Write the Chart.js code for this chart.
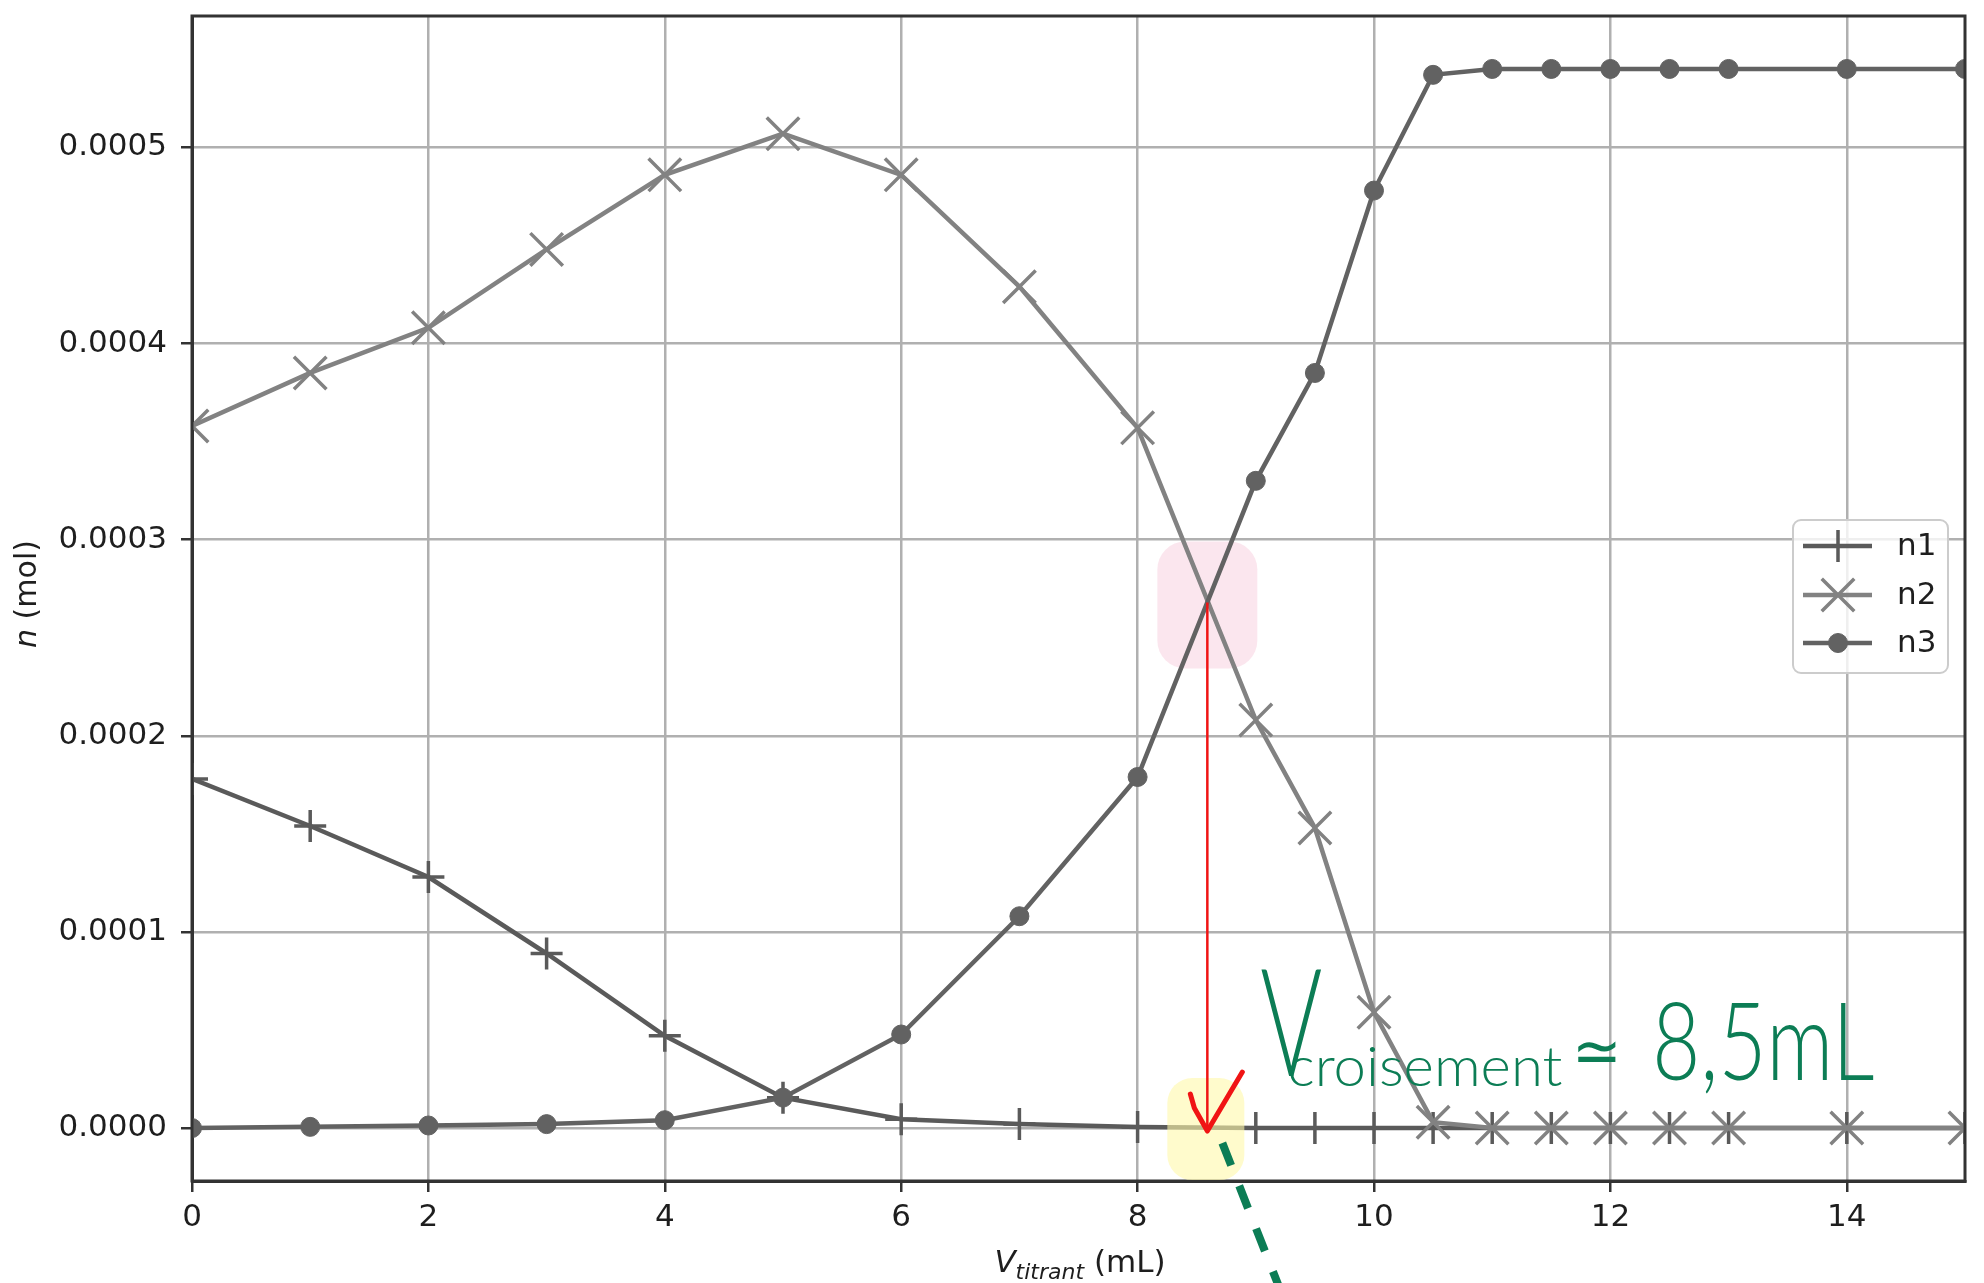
<!DOCTYPE html>
<html>
<head>
<meta charset="utf-8">
<script src="https://cdn.jsdelivr.net/npm/chart.js@4"></script>
<style>
  html, body { margin: 0; padding: 0; background: #fff; }
</style>
</head>
<body>
<canvas id="titrationChart" width="1984" height="1283"></canvas>
<script>
// data
const volumes = [0, 1, 2, 3, 4, 5, 6, 7, 8, 9, 9.5, 10, 10.5, 11, 11.5, 12, 12.5, 13, 14, 15];
const n1Values = [0.000178, 0.000154, 0.000128, 0.000089, 0.000047, 0.0000155, 0.0000045, 0.000002, 0.0000005, 0, 0, 0, 0, 0, 0, 0, 0, 0, 0, 0];
const n2Values = [0.000358, 0.000385, 0.000408, 0.000448, 0.000486, 0.000507, 0.000486, 0.000429, 0.000357, 0.000208, 0.000153, 0.000059, 0.000003, 0, 0, 0, 0, 0, 0, 0];
const n3Values = [0, 0.0000006, 0.0000013, 0.000002, 0.000004, 0.0000155, 0.0000477, 0.000108, 0.000179, 0.00033, 0.000385, 0.000478, 0.000537, 0.00054, 0.00054, 0.00054, 0.00054, 0.00054, 0.00054, 0.00054];
const seriesNames = ['n1', 'n2', 'n3'];
const xTicks = [0, 2, 4, 6, 8, 10, 12, 14];
const yTicks = [0, 0.0001, 0.0002, 0.0003, 0.0004, 0.0005];

// handwritten note on the picture
const crossingVolume = 8.59;
const crossingAmount = 0.000269;
const noteParts = ['V', 'croisement', '≃', '8,5mL'];

const green = 'rgb(12,125,85)';

function toPoints(values) {
    return volumes.map((v, i) => ({ x: v, y: values[i] }));
}

function fitText(ctx, text, x, baseline, width, font) {
    ctx.font = font;
    const w = ctx.measureText(text).width;
    ctx.save();
    ctx.translate(x, baseline);
    ctx.scale(width / w, 1);
    ctx.fillText(text, 0, 0);
    ctx.restore();
}

function noPadding(scale) {
    scale.paddingTop = 0;
    scale.paddingBottom = 0;
    scale.paddingLeft = 0;
    scale.paddingRight = 0;
}

const decorPlugin = {
    id: 'decor',
    beforeDatasetsDraw(chart) {
        const ctx = chart.ctx;
        const x = chart.scales.x, y = chart.scales.y;
        const cx = x.getPixelForValue(crossingVolume);
        const cy = y.getPixelForValue(crossingAmount);
        ctx.save();
        ctx.fillStyle = 'rgba(248,214,226,0.6)';
        ctx.beginPath();
        ctx.roundRect(cx - 50, cy - 59, 100, 127, 28);
        ctx.fill();
        ctx.restore();
    },
    afterDatasetsDraw(chart) {
        const ctx = chart.ctx;
        const area = chart.chartArea;
        const x = chart.scales.x, y = chart.scales.y;
        const cx = x.getPixelForValue(crossingVolume);
        const cy = y.getPixelForValue(crossingAmount);
        const y0 = y.getPixelForValue(0);

        // top and right spines
        ctx.save();
        ctx.strokeStyle = '#333';
        ctx.lineWidth = 3;
        ctx.strokeRect(area.left, area.top, area.right - area.left, area.bottom - area.top);

        // yellow highlight
        ctx.fillStyle = 'rgba(255,248,170,0.6)';
        ctx.beginPath();
        ctx.roundRect(cx - 40, y0 - 50, 77, 102, 25);
        ctx.fill();

        // red arrow + check
        ctx.strokeStyle = 'rgb(240,20,20)';
        ctx.lineWidth = 2.5;
        ctx.beginPath();
        ctx.moveTo(cx, cy + 2);
        ctx.lineTo(cx, y0 + 3);
        ctx.stroke();
        ctx.lineWidth = 5;
        ctx.lineJoin = 'round';
        ctx.lineCap = 'round';
        ctx.beginPath();
        ctx.moveTo(cx - 17, y0 - 34);
        ctx.lineTo(cx - 13, y0 - 20);
        ctx.lineTo(cx, y0 + 3);
        ctx.lineTo(cx + 35, y0 - 56);
        ctx.stroke();

        // green dashed pointer
        ctx.strokeStyle = green;
        ctx.lineWidth = 8;
        ctx.lineCap = 'butt';
        ctx.setLineDash([24, 22]);
        ctx.beginPath();
        ctx.moveTo(cx + 15, y0 + 15);
        ctx.lineTo(cx + 82, y0 + 185);
        ctx.stroke();
        ctx.setLineDash([]);

        // green note
        ctx.fillStyle = green;
        fitText(ctx, noteParts[0], cx + 53, y0 - 52, 62, '300 150px Lato, "DejaVu Sans"');
        fitText(ctx, noteParts[1], cx + 80, y0 - 42, 275, '300 56px Lato, "DejaVu Sans"');
        fitText(ctx, noteParts[2], cx + 365, y0 - 55, 50, '200 64px "DejaVu Sans"');
        fitText(ctx, noteParts[3], cx + 445, y0 - 48, 222, '300 108px Lato, "DejaVu Sans"');
        ctx.restore();

        // legend
        const box = { left: 1793, top: 520, width: 155, height: 153 };
        ctx.save();
        ctx.fillStyle = 'rgba(255,255,255,0.8)';
        ctx.strokeStyle = '#cccccc';
        ctx.lineWidth = 2;
        ctx.beginPath();
        ctx.roundRect(box.left, box.top, box.width, box.height, 8);
        ctx.fill();
        ctx.stroke();
        const rows = [546, 595, 643];
        chart.data.datasets.forEach((ds, i) => {
            const ry = rows[i];
            ctx.strokeStyle = ds.borderColor;
            ctx.lineWidth = ds.borderWidth;
            ctx.beginPath();
            ctx.moveTo(1803, ry);
            ctx.lineTo(1872, ry);
            ctx.stroke();
            ctx.fillStyle = ds.pointBackgroundColor;
            ctx.strokeStyle = ds.borderColor;
            ctx.lineWidth = ds.pointBorderWidth;
            Chart.helpers.drawPoint(ctx, {
                pointStyle: ds.pointStyle,
                radius: ds.pointRadius,
                rotation: 0,
                borderWidth: ds.pointBorderWidth
            }, 1838, ry);
            ctx.fillStyle = '#1e1e1e';
            ctx.font = '31px "DejaVu Sans"';
            ctx.textBaseline = 'middle';
            ctx.fillText(ds.label, 1897, ry + 1);
        });
        ctx.restore();
    },
    afterDraw(chart) {
        const ctx = chart.ctx;
        ctx.save();
        ctx.fillStyle = '#1e1e1e';
        ctx.textBaseline = 'alphabetic';

        // x title: V_titrant (mL)
        const partsX = [
            { t: 'V', f: 'italic 31px "DejaVu Sans"', dy: 0 },
            { t: 'titrant', f: 'italic 22px "DejaVu Sans"', dy: 7 },
            { t: ' (mL)', f: '31px "DejaVu Sans"', dy: 0 }
        ];
        let total = 0;
        partsX.forEach(p => { ctx.font = p.f; p.w = ctx.measureText(p.t).width; total += p.w; });
        let px = 1080 - total / 2;
        partsX.forEach(p => { ctx.font = p.f; ctx.fillText(p.t, px, 1272 + p.dy); px += p.w; });

        // y title: n (mol)
        ctx.translate(36, 594);
        ctx.rotate(-Math.PI / 2);
        const partsY = [
            { t: 'n', f: 'italic 30px "DejaVu Sans"' },
            { t: ' (mol)', f: '30px "DejaVu Sans"' }
        ];
        total = 0;
        partsY.forEach(p => { ctx.font = p.f; p.w = ctx.measureText(p.t).width; total += p.w; });
        px = -total / 2;
        partsY.forEach(p => { ctx.font = p.f; ctx.fillText(p.t, px, 0); px += p.w; });
        ctx.restore();
    }
};

const ctx = document.getElementById('titrationChart');

new Chart(ctx, {
    type: 'line',
    data: {
        datasets: [{
            label: seriesNames[0],
            data: toPoints(n1Values),
            borderColor: '#5a5a5a',
            borderWidth: 4.5,
            pointStyle: 'cross',
            pointRadius: 16,
            pointBorderWidth: 3.5,
            pointBackgroundColor: '#5a5a5a',
            order: 3,
            clip: 0
        }, {
            label: seriesNames[1],
            data: toPoints(n2Values),
            borderColor: '#828282',
            borderWidth: 4.5,
            pointStyle: 'crossRot',
            pointRadius: 23,
            pointBorderWidth: 3.5,
            pointBackgroundColor: '#828282',
            order: 2,
            clip: 0
        }, {
            label: seriesNames[2],
            data: toPoints(n3Values),
            borderColor: '#626262',
            borderWidth: 4.5,
            pointStyle: 'circle',
            pointRadius: 9.5,
            pointBorderWidth: 1,
            pointBackgroundColor: '#626262',
            order: 1,
            clip: 0
        }]
    },
    options: {
        responsive: false,
        animation: false,
        devicePixelRatio: 1,
        layout: {
            autoPadding: false,
            padding: { left: 0, top: 16, right: 19, bottom: 0 }
        },
        scales: {
            x: {
                type: 'linear',
                min: 0,
                max: 15,
                afterBuildTicks: (scale) => { scale.ticks = xTicks.map(v => ({ value: v })); },
                afterFit: (scale) => { scale.height = 102; noPadding(scale); },
                grid: { color: '#b0b0b0', lineWidth: 2.5, tickLength: 11, tickColor: '#333', tickWidth: 2.5 },
                border: { color: '#333', width: 3 },
                ticks: {
                    color: '#1e1e1e',
                    font: { family: 'DejaVu Sans', size: 31 },
                    padding: 7,
                    maxRotation: 0,
                    callback: (v) => String(v)
                }
            },
            y: {
                type: 'linear',
                min: -0.000027,
                max: 0.000567,
                afterBuildTicks: (scale) => { scale.ticks = yTicks.map(v => ({ value: v })); },
                afterFit: (scale) => { scale.width = 192; noPadding(scale); },
                grid: { color: '#b0b0b0', lineWidth: 2.5, tickLength: 11, tickColor: '#333', tickWidth: 2.5 },
                border: { color: '#333', width: 3 },
                ticks: {
                    color: '#1e1e1e',
                    font: { family: 'DejaVu Sans', size: 31 },
                    padding: 14,
                    callback: (v) => v.toFixed(4)
                }
            }
        },
        plugins: {
            legend: { display: false },
            tooltip: { enabled: false }
        }
    },
    plugins: [decorPlugin]
});
</script>
</body>
</html>
